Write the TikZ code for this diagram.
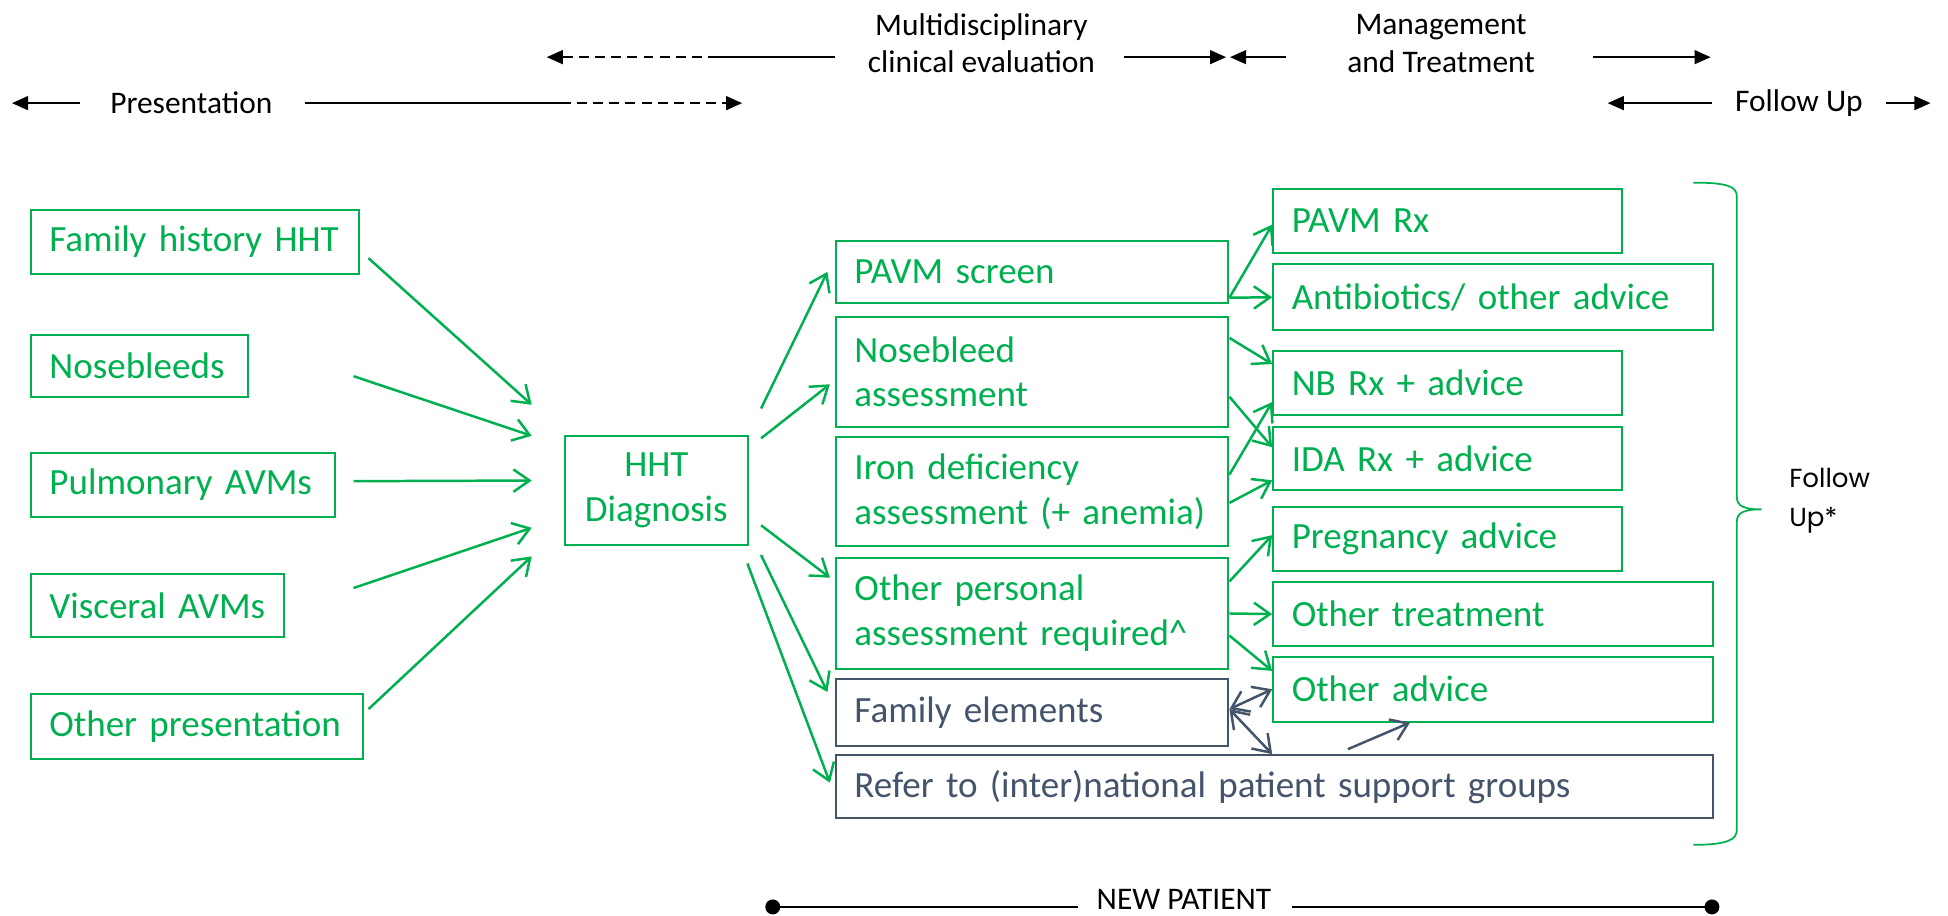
\documentclass[tikz,border=0pt]{standalone}
\usepackage{fontspec}
\setmainfont{Carlito}
\newfontfamily\bracefont{Poppins}
\usetikzlibrary{positioning, arrows.meta}
\definecolor{hhtgreen}{HTML}{00B050}
\definecolor{hhtgray}{HTML}{44546A}
\tikzset{
	infobox/.append style={
		draw,
		anchor=north west,
		align=left,
		inner xsep=15pt,
		inner ysep=0pt,
		line width=1.6pt,
		font={\fontsize{29.8}{36}\selectfont}
	},
	greenbox/.append style={
		infobox,
		draw=hhtgreen,
		text=hhtgreen
	},
	graybox/.append style={
		infobox,
		draw=hhtgray,
		text=hhtgray
	},
	phaselabel/.append style={
		align=center,
		inner sep=0pt,
		font={\fontsize{25.3}{30}\selectfont}
	}
}

\begin{document}
\begin{tikzpicture}[
	x=1pt, y=-1pt,
	barb/.style = {-{Straight Barb[length=13pt, width=18pt, line width=2pt]}},
	garrow/.style = {hhtgreen, line width=2pt, barb},
	darrow/.style = {hhtgray, line width=2pt, {Straight Barb[length=13pt, width=18pt, line width=2pt]}-{Straight Barb[length=13pt, width=18pt, line width=2pt]}},
	sarrow/.style = {hhtgray, line width=2pt, barb},
	tarrow/.style = {line width=1.9pt, -{Triangle[length=13pt, width=11pt]}},
	dashline/.style = {dash pattern=on 8pt off 5pt},
	dotline/.style = {line width=1.9pt, -{Circle[length=12pt]}}
	]
	\useasboundingbox (0,0) rectangle (1568,737);
	
	% Phases
	\node[phaselabel](pres) at (154,83){Presentation};
	\draw[tarrow] ([xshift=-24]pres.west) -- ([xshift=-79]pres.west);
	\draw[line width=1.9pt] ([xshift=26]pres.east) -- ([xshift=232]pres.east) coordinate(presd);
	\draw[tarrow, dashline] (presd) -- ([xshift=146]presd);
	
	\node[phaselabel](mde) at (790,35){Multidisciplinary\\clinical evaluation};
	\draw[line width=1.9pt] ([shift={(-118,11)}]mde.center) -- ([shift={(-212,11)}]mde.center) coordinate(mded);
	\draw[tarrow, dashline] (mded) -- ([xshift=-138]mded);
	\draw[tarrow] ([shift={(115,11)}]mde.center) -- ([shift={(197,11)}]mde.center);
	
	\node[phaselabel](mgt) at (1160,35){Management\\and Treatment};
	\draw[tarrow] ([shift={(-125,11)}]mgt.center) -- ([shift={(-170,11)}]mgt.center);
	\draw[tarrow] ([shift={(122,11)}]mgt.center) -- ([shift={(217,11)}]mgt.center);
	
	\node[phaselabel](fu) at (1448,83){Follow Up};
	\draw[tarrow] ([xshift=-70]fu.center) -- ([xshift=-154]fu.center);
	\draw[tarrow] ([xshift=70]fu.center) -- ([xshift=106]fu.center);
	
	% Objects: presentation
	\node[greenbox, text width=234pt, minimum height=52pt](fam) at (24,168){Family~history~HHT};
	\node[greenbox, text width=145pt, minimum height=50pt](nose) at (24,269){Nosebleeds};
	\node[greenbox, text width=215pt, minimum height=51pt](pulm) at (24,364){Pulmonary~AVMs};
	\node[greenbox, text width=174pt, minimum height=51pt](visc) at (24,461){Visceral~AVMs};
	\node[greenbox, text width=237pt, minimum height=52pt](othp) at (24,558){Other~presentation};
	
	\node[greenbox, align=center, text width=117pt, minimum height=88pt](hht) at (454,350){HHT\\Diagnosis};
	
	\draw[garrow] ([shift={(7,13)}]fam.east) -- ([shift={(-26,-69)}]hht.west);
	\draw[garrow] ([shift={(84,8)}]nose.east) -- ([shift={(-26,-44)}]hht.west);
	\draw[garrow] ([shift={(14,-3)}]pulm.east) -- ([shift={(-26,-8)}]hht.west);
	\draw[garrow] ([shift={(55,-14)}]visc.east) -- ([shift={(-26,30)}]hht.west);
	\draw[garrow] ([shift={(4,-14)}]othp.east) -- ([shift={(-26,53)}]hht.west);
	
	% Objects: assessment
	\node[greenbox, text width=286pt, minimum height=50pt](pavms) at (672,193){PAVM screen};
	\node[greenbox, text width=286pt, minimum height=89pt](nba) at (672,254){Nosebleed\\assessment};
	\node[greenbox, text width=286pt, minimum height=88pt](ida) at (672,351){Iron deficiency\\assessment (+ anemia)};
	\node[greenbox, text width=286pt, minimum height=90pt](oth) at (672,448){Other personal\\assessment required\textasciicircum};
	\node[graybox, text width=286pt, minimum height=54pt](famel) at (672,546){Family elements};
	\node[graybox, text width=676pt, minimum height=51pt](refer) at (672,607){Refer to (inter)national patient support groups};
	
	\draw[garrow] ([shift={(10,-66)}]hht.east) -- ([xshift=-6]pavms.west);
	\draw[garrow] ([shift={(10,-42)}]hht.east) -- ([shift={(-4,10)}]nba.west);
	\draw[garrow] ([shift={(10,28)}]hht.east) -- ([shift={(-4,17)}]oth.north west);
	\draw[garrow] ([shift={(10,52)}]hht.east) -- ([shift={(-6,11)}]famel.north west);
	\draw[garrow] ([shift={(-1,14)}]hht.south east) -- ([shift={(-4,23)}]refer.north west);
	
	% Objects: management and treatment
	\node[greenbox, text width=251pt, minimum height=52pt](pavmrx) at (1024,151){PAVM Rx};
	\node[greenbox, text width=324pt, minimum height=53pt](abx) at (1024,212){Antibiotics/ other advice};
	\node[greenbox, text width=251pt, minimum height=51pt](nbrx) at (1024,282){NB Rx + advice};
	\node[greenbox, text width=251pt, minimum height=51pt](idarx) at (1024,343){IDA Rx + advice};
	\node[greenbox, text width=251pt, minimum height=52pt](preg) at (1024,407){Pregnancy advice};
	\node[greenbox, text width=324pt, minimum height=51pt](othtr) at (1024,468){Other treatment};
	\node[greenbox, text width=324pt, minimum height=52pt](othadv) at (1024,528){Other advice};
	
	\draw[garrow] ([shift={(0,-5)}]pavms.south east) -- ([shift={(0,3)}]pavmrx.west);
	\draw[garrow] ([shift={(0,-5)}]pavms.south east) -- (abx.west);
	\draw[garrow] ([shift={(0,18)}]nba.north east) -- ([shift={(0,11)}]nbrx.north west);
	\draw[garrow] ([shift={(0,20)}]nba.east) -- ([shift={(0,17)}]idarx.north west);
	\draw[garrow] ([shift={(0,31)}]ida.north east) -- ([shift={(0,-11)}]nbrx.south west);
	\draw[garrow] ([shift={(0,9)}]ida.east) -- ([shift={(0,-9)}]idarx.south west);
	\draw[garrow] ([shift={(0,20)}]oth.north east) -- ([shift={(0,-3)}]preg.west);
	\draw[garrow] (oth.east) -- (othtr.west);
	\draw[garrow] ([shift={(0,-28)}]oth.south east) -- ([shift={(0,12)}]othadv.north west);
	
	\draw[darrow] ([shift={(0,-3)}]famel.east) -- (othadv.west);
	\draw[darrow] ([shift={(0,-3)}]famel.east) -- (refer.north -| othadv.west);
	\draw[sarrow] ([shift={(413,-4)}]refer.north west) -- ([xshift=111]othadv.south west);
	
	% Follow up brace
	\draw[hhtgreen, line width=1.4pt] (1363,147) .. controls (1390,147) and (1398,150) .. (1398,158)
		-- (1398,400) .. controls (1398,408) and (1405,410) .. (1418,410)
		.. controls (1405,410) and (1398,412) .. (1398,420)
		-- (1398,668) .. controls (1398,676) and (1390,680) .. (1363,680);
	\node[anchor=west, align=left, inner sep=0pt, font={\bracefont\fontsize{21}{32}\selectfont}](fustar) at (1440,403){Follow\\Up*};
	
	% New patient
	\node[phaselabel](newp) at (953,724){NEW PATIENT};
	\draw[dotline] ([shift={(-85,6)}]newp.center) -- ([shift={(-337,6)}]newp.center);
	\draw[dotline] ([shift={(87,6)}]newp.center) -- ([shift={(431,6)}]newp.center);
	
\end{tikzpicture}
\end{document}
